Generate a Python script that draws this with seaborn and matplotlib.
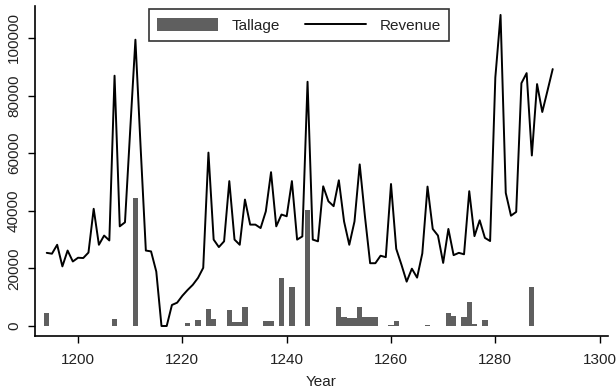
import numpy as np
import pandas as pd
import matplotlib
matplotlib.use("Agg")
import matplotlib.pyplot as plt
from matplotlib.patches import Patch
from matplotlib.lines import Line2D
import seaborn as sns

years = list(range(1194, 1292))
revenue = [
    25400, 25100, 28200, 20700, 26200, 22400, 23700, 23600, 25500, 40700,  # 1194-1203
    28200, 31400, 29700, 86900, 34600, 36000, 68000, 99400, 62000, 26200,  # 1204-1213
    25900, 18900, 0, 0, 7300, 8100, 10500, 12500, 14300, 16700,            # 1214-1223
    20200, 60200, 30000, 27400, 29400, 50300, 30000, 28200, 43900, 35200,  # 1224-1233
    35200, 34000, 39800, 53400, 34600, 38700, 38100, 50300, 30000, 31100,  # 1234-1243
    84800, 30000, 29400, 48500, 43300, 41600, 50600, 36300, 28200, 36300,  # 1244-1253
    56100, 38100, 21800, 21800, 24400, 23900, 49300, 26800, 21300, 15400,  # 1254-1263
    19900, 16800, 25200, 48400, 33700, 31400, 21900, 33700, 24600, 25400,  # 1264-1273
    24900, 46800, 31200, 36700, 30600, 29500, 86300, 108000, 46200, 38300, # 1274-1283
    39600, 84300, 87800, 59200, 84000, 74300, 81700, 89200,                # 1284-1291
]

tallage_years = [1194, 1207, 1211, 1221, 1223, 1225, 1226, 1229, 1230, 1231,
                 1232, 1236, 1237, 1239, 1241, 1244, 1250, 1251, 1252, 1253,
                 1254, 1255, 1256, 1257, 1260, 1261, 1267, 1271, 1272, 1274,
                 1275, 1276, 1278, 1287]
tallage_values = [4400, 2500, 44300, 900, 2100, 5800, 2600, 5400, 1300, 1300,
                  6500, 1800, 1800, 16600, 13500, 40200, 6700, 3000, 2800, 2800,
                  6700, 3000, 3100, 3100, 400, 1800, 300, 4400, 3600, 3000,
                  8200, 800, 2000, 13400]

xticks = [1200, 1220, 1240, 1260, 1280, 1300]
yticks = [0, 20000, 40000, 60000, 80000, 100000]

sns.set_style("white")
plt.rcParams['font.family'] = ['Liberation Sans', 'DejaVu Sans']

rev_df = pd.DataFrame({"Year": years, "Revenue": revenue})
tal_map = dict(zip(tallage_years, tallage_values))
tal_df = pd.DataFrame({"Year": years, "Tallage": [tal_map.get(y, 0) for y in years]})

fig = plt.figure(figsize=(6.16, 3.92), dpi=100)
ax = fig.add_axes([35/616, 1-336/392, (608-35)/616, 330/392])

bar_color = "#5f5f5f"
sns.barplot(data=tal_df, x="Year", y="Tallage", native_scale=True, width=1.0,
            color=bar_color, saturation=1, linewidth=0, ax=ax, errorbar=None)
sns.lineplot(data=rev_df, x="Year", y="Revenue", color="black", linewidth=1.4, ax=ax)

ax.set_xlim(1191.75, 1301.6)
ax.set_ylim(-3470, 111100)
ax.set_xticks(xticks)
ax.set_xticklabels([str(t) for t in xticks])
ax.set_yticks(yticks)
ax.set_yticklabels([str(t) for t in yticks], rotation=90, va="center")
ax.tick_params(axis="both", which="both", direction="out", length=5, width=1,
               color="black", labelsize=11, labelcolor="#222222", bottom=True, left=True)
ax.tick_params(axis="x", pad=7)
ax.tick_params(axis="y", pad=5)
ax.set_xlabel("Year", fontsize=11, color="#222222", labelpad=6)
ax.set_ylabel("")
for s in ["top", "right"]:
    ax.spines[s].set_visible(False)
for s in ["left", "bottom"]:
    ax.spines[s].set_color("black")
    ax.spines[s].set_linewidth(1.2)

handles = [Patch(facecolor=bar_color, edgecolor="none", label="Tallage"),
           Line2D([0], [0], color="black", linewidth=1.4, label="Revenue")]
leg = ax.legend(handles=handles, loc="upper center", bbox_to_anchor=(0.461, 0.99),
                ncol=2, frameon=True, fancybox=False, edgecolor="black",
                fontsize=11, handlelength=4.0, handleheight=1.0,
                handletextpad=0.9, columnspacing=1.6, borderpad=0.55,
                borderaxespad=0)
leg.get_frame().set_linewidth(1.2)
for t in leg.get_texts():
    t.set_color("#222222")

fig.savefig("out.png", dpi=100)
